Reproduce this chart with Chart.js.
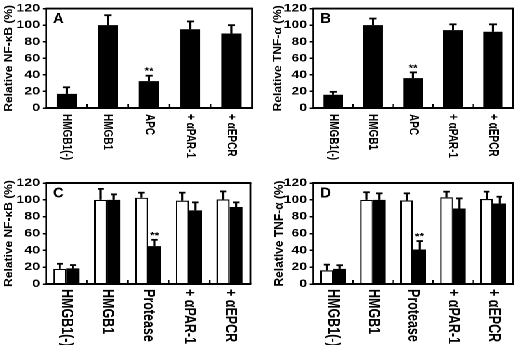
<!DOCTYPE html>
<html>
<head>
<meta charset="utf-8">
<script src="https://cdn.jsdelivr.net/npm/chart.js@4.4.0/dist/chart.umd.min.js"></script>
<style>
html, body { margin: 0; padding: 0; background: #fff; overflow: hidden; }
#wrap { position: relative; width: 400px; height: 345px; transform: scaleX(1.3); transform-origin: 0 0; }
.panel { position: absolute; }
</style>
</head>
<body>
<div id="wrap">
  <div class="panel" style="left:0;top:0;width:200px;height:172px"><canvas id="cA"></canvas></div>
  <div class="panel" style="left:200px;top:0;width:200px;height:172px"><canvas id="cB"></canvas></div>
  <div class="panel" style="left:0;top:172px;width:200px;height:173px"><canvas id="cC"></canvas></div>
  <div class="panel" style="left:200px;top:172px;width:200px;height:173px"><canvas id="cD"></canvas></div>
</div>
<script>
// the original figure is stretched sideways, so the whole page is too
const S = 1.3;
const FONT = "'Liberation Sans', Arial, sans-serif";

const catsTop = ['HMGB1(-)', 'HMGB1', 'APC', '+ αPAR-1', '+ αEPCR'];
const catsBottom = ['HMGB1(-)', 'HMGB1', 'Protease', '+ αPAR-1', '+ αEPCR'];
const yTicks = [0, 20, 40, 60, 80, 100, 120];

// A: NF-kB
const nfkbA = [17, 100, 32.5, 95, 90];
const nfkbAErr = [8, 12, 6.5, 9.5, 10];
const sigA = ['', '', '**', '', ''];

// B: TNF-a
const tnfB = [16, 100, 36, 94, 92];
const tnfBErr = [3.5, 8, 7, 7, 9];
const sigB = ['', '', '**', '', ''];

// C: NF-kB, open / filled
const nfkbCOpen = [18, 100, 102.5, 99, 100.5];
const nfkbCOpenErr = [6, 13, 6, 9.5, 9.5];
const nfkbCFill = [18.5, 100, 45, 87.5, 91.5];
const nfkbCFillErr = [4, 6.5, 7.5, 9.5, 5.5];
const sigCFill = ['', '', '**', '', ''];

// D: TNF-a, open / filled
const tnfDOpen = [16.3, 100, 99.3, 103, 101];
const tnfDOpenErr = [6.7, 9, 8.4, 6.7, 8.7];
const tnfDFill = [18, 100, 41, 89.7, 95.7];
const tnfDFillErr = [4.3, 7.7, 10, 12, 8];
const sigDFill = ['', '', '**', '', ''];

const none = ['', '', '', '', ''];

function deco(cfg) {
  return {
    id: 'deco',
    afterDatasetsDraw(chart) {
      const ctx = chart.ctx, a = chart.chartArea;
      const x = chart.scales.x, y = chart.scales.y;
      ctx.save();
      ctx.strokeStyle = '#000';
      ctx.fillStyle = '#000';

      // error bars (upper half only) and significance marks
      cfg.errs.forEach((errs, di) => {
        const vals = chart.data.datasets[di].data;
        chart.getDatasetMeta(di).data.forEach((bar, i) => {
          const top = y.getPixelForValue(vals[i] + errs[i]);
          ctx.lineWidth = 1.6;
          ctx.beginPath(); ctx.moveTo(bar.x, bar.y); ctx.lineTo(bar.x, top); ctx.stroke();
          ctx.lineWidth = 1.8;
          ctx.beginPath(); ctx.moveTo(bar.x - cfg.cap, top); ctx.lineTo(bar.x + cfg.cap, top); ctx.stroke();
          const mark = cfg.sig[di][i];
          if (mark) {
            ctx.font = 'bold 9px ' + FONT;
            ctx.textAlign = 'center';
            ctx.textBaseline = 'alphabetic';
            ctx.fillText(mark, bar.x, top - 1.5);
          }
        });
      });

      // frame
      ctx.lineWidth = 1.9;
      ctx.beginPath();
      ctx.moveTo(a.left - 0.7, a.top); ctx.lineTo(a.right + 0.7, a.top);
      ctx.moveTo(a.left - 0.7, a.bottom); ctx.lineTo(a.right + 0.7, a.bottom);
      ctx.stroke();
      ctx.lineWidth = 1.4;
      ctx.beginPath();
      ctx.moveTo(a.left, a.top); ctx.lineTo(a.left, a.bottom);
      ctx.moveTo(a.right, a.top); ctx.lineTo(a.right, a.bottom);
      ctx.stroke();

      // small inward ticks between categories
      const n = chart.data.labels.length;
      ctx.lineWidth = 1.2;
      for (let i = 1; i < n; i++) {
        const px = (x.getPixelForValue(i - 1) + x.getPixelForValue(i)) / 2;
        ctx.beginPath(); ctx.moveTo(px, a.bottom); ctx.lineTo(px, a.bottom - 4); ctx.stroke();
      }

      // category labels, turned to read downwards
      ctx.font = 'bold ' + cfg.labelSize + 'px ' + FONT;
      ctx.textAlign = 'left';
      ctx.textBaseline = 'middle';
      chart.data.labels.forEach((lab, i) => {
        ctx.save();
        ctx.translate(x.getPixelForValue(i), a.bottom + cfg.labelGap);
        ctx.rotate(Math.PI / 2);
        ctx.fillText(lab, 0, 0);
        ctx.restore();
      });

      // y title and panel letter are not stretched in the original
      ctx.save();
      ctx.translate(cfg.titleX, (a.top + a.bottom) / 2);
      ctx.scale(1 / S, 1);
      ctx.rotate(-Math.PI / 2);
      ctx.font = 'bold 12px ' + FONT;
      ctx.textAlign = 'center';
      ctx.textBaseline = 'middle';
      ctx.fillText(cfg.title, 0, 0);
      ctx.restore();

      ctx.save();
      ctx.translate(a.left + 5.4, a.top + 14.5);
      ctx.scale(1 / S, 1);
      ctx.font = 'bold 15px ' + FONT;
      ctx.textAlign = 'left';
      ctx.textBaseline = 'alphabetic';
      ctx.fillText(cfg.letter, 0, 0);
      ctx.restore();

      ctx.restore();
    }
  };
}

function makeChart(id, labels, datasets, cfg) {
  new Chart(document.getElementById(id), {
    type: 'bar',
    data: { labels: labels, datasets: datasets },
    options: {
      responsive: true,
      maintainAspectRatio: false,
      devicePixelRatio: 2,
      animation: false,
      events: [],
      layout: { padding: { left: 0, top: cfg.top, right: 200 - cfg.right, bottom: cfg.h - cfg.bottom } },
      plugins: { legend: { display: false }, tooltip: { enabled: false } },
      scales: {
        x: { display: false, offset: true },
        y: {
          min: 0, max: 120,
          afterBuildTicks: (s) => { s.ticks = yTicks.map(v => ({ value: v })); },
          afterFit: (s) => { s.width = cfg.left; },
          ticks: { color: '#000', padding: 2, font: { family: FONT, size: 11, weight: 'bold' } },
          grid: { display: true, drawOnChartArea: false, drawTicks: true, tickLength: 2.5, color: '#000', lineWidth: 1.5 },
          border: { display: false },
          title: { display: false }
        }
      }
    },
    plugins: [deco(cfg)]
  });
}

function filled(data) {
  return { data: data, backgroundColor: '#000', borderColor: '#000', borderWidth: 0 };
}
function open(data) {
  return { data: data, backgroundColor: '#fff', borderColor: '#000', borderWidth: 1.2 };
}

const single = { categoryPercentage: 0.49, barPercentage: 1 };
const pair = { categoryPercentage: 0.64, barPercentage: 1 };

makeChart('cA', catsTop, [Object.assign(filled(nfkbA), single)], {
  h: 172, left: 35.4, right: 193.8, top: 7, bottom: 108,
  errs: [nfkbAErr], sig: [sigA], cap: 2.8,
  labelSize: 10, labelGap: 6, titleX: 6.9, title: 'Relative NF-κB (%)', letter: 'A'
});
makeChart('cB', catsTop, [Object.assign(filled(tnfB), single)], {
  h: 172, left: 40.8, right: 194.6, top: 7, bottom: 108,
  errs: [tnfBErr], sig: [sigB], cap: 2.8,
  labelSize: 10, labelGap: 6, titleX: 14, title: 'Relative TNF-α (%)', letter: 'B'
});
makeChart('cC', catsBottom, [Object.assign(open(nfkbCOpen), pair), Object.assign(filled(nfkbCFill), pair)], {
  h: 173, left: 35.4, right: 192.5, top: 11, bottom: 112,
  errs: [nfkbCOpenErr, nfkbCFillErr], sig: [none, sigCFill], cap: 2.4,
  labelSize: 12.5, labelGap: 5, titleX: 6.9, title: 'Relative NF-κB (%)', letter: 'C'
});
makeChart('cD', catsBottom, [Object.assign(open(tnfDOpen), pair), Object.assign(filled(tnfDFill), pair)], {
  h: 173, left: 40.8, right: 194.6, top: 11, bottom: 112,
  errs: [tnfDOpenErr, tnfDFillErr], sig: [none, sigDFill], cap: 2.4,
  labelSize: 12.5, labelGap: 5, titleX: 15, title: 'Relative TNF-α (%)', letter: 'D'
});
</script>
</body>
</html>
